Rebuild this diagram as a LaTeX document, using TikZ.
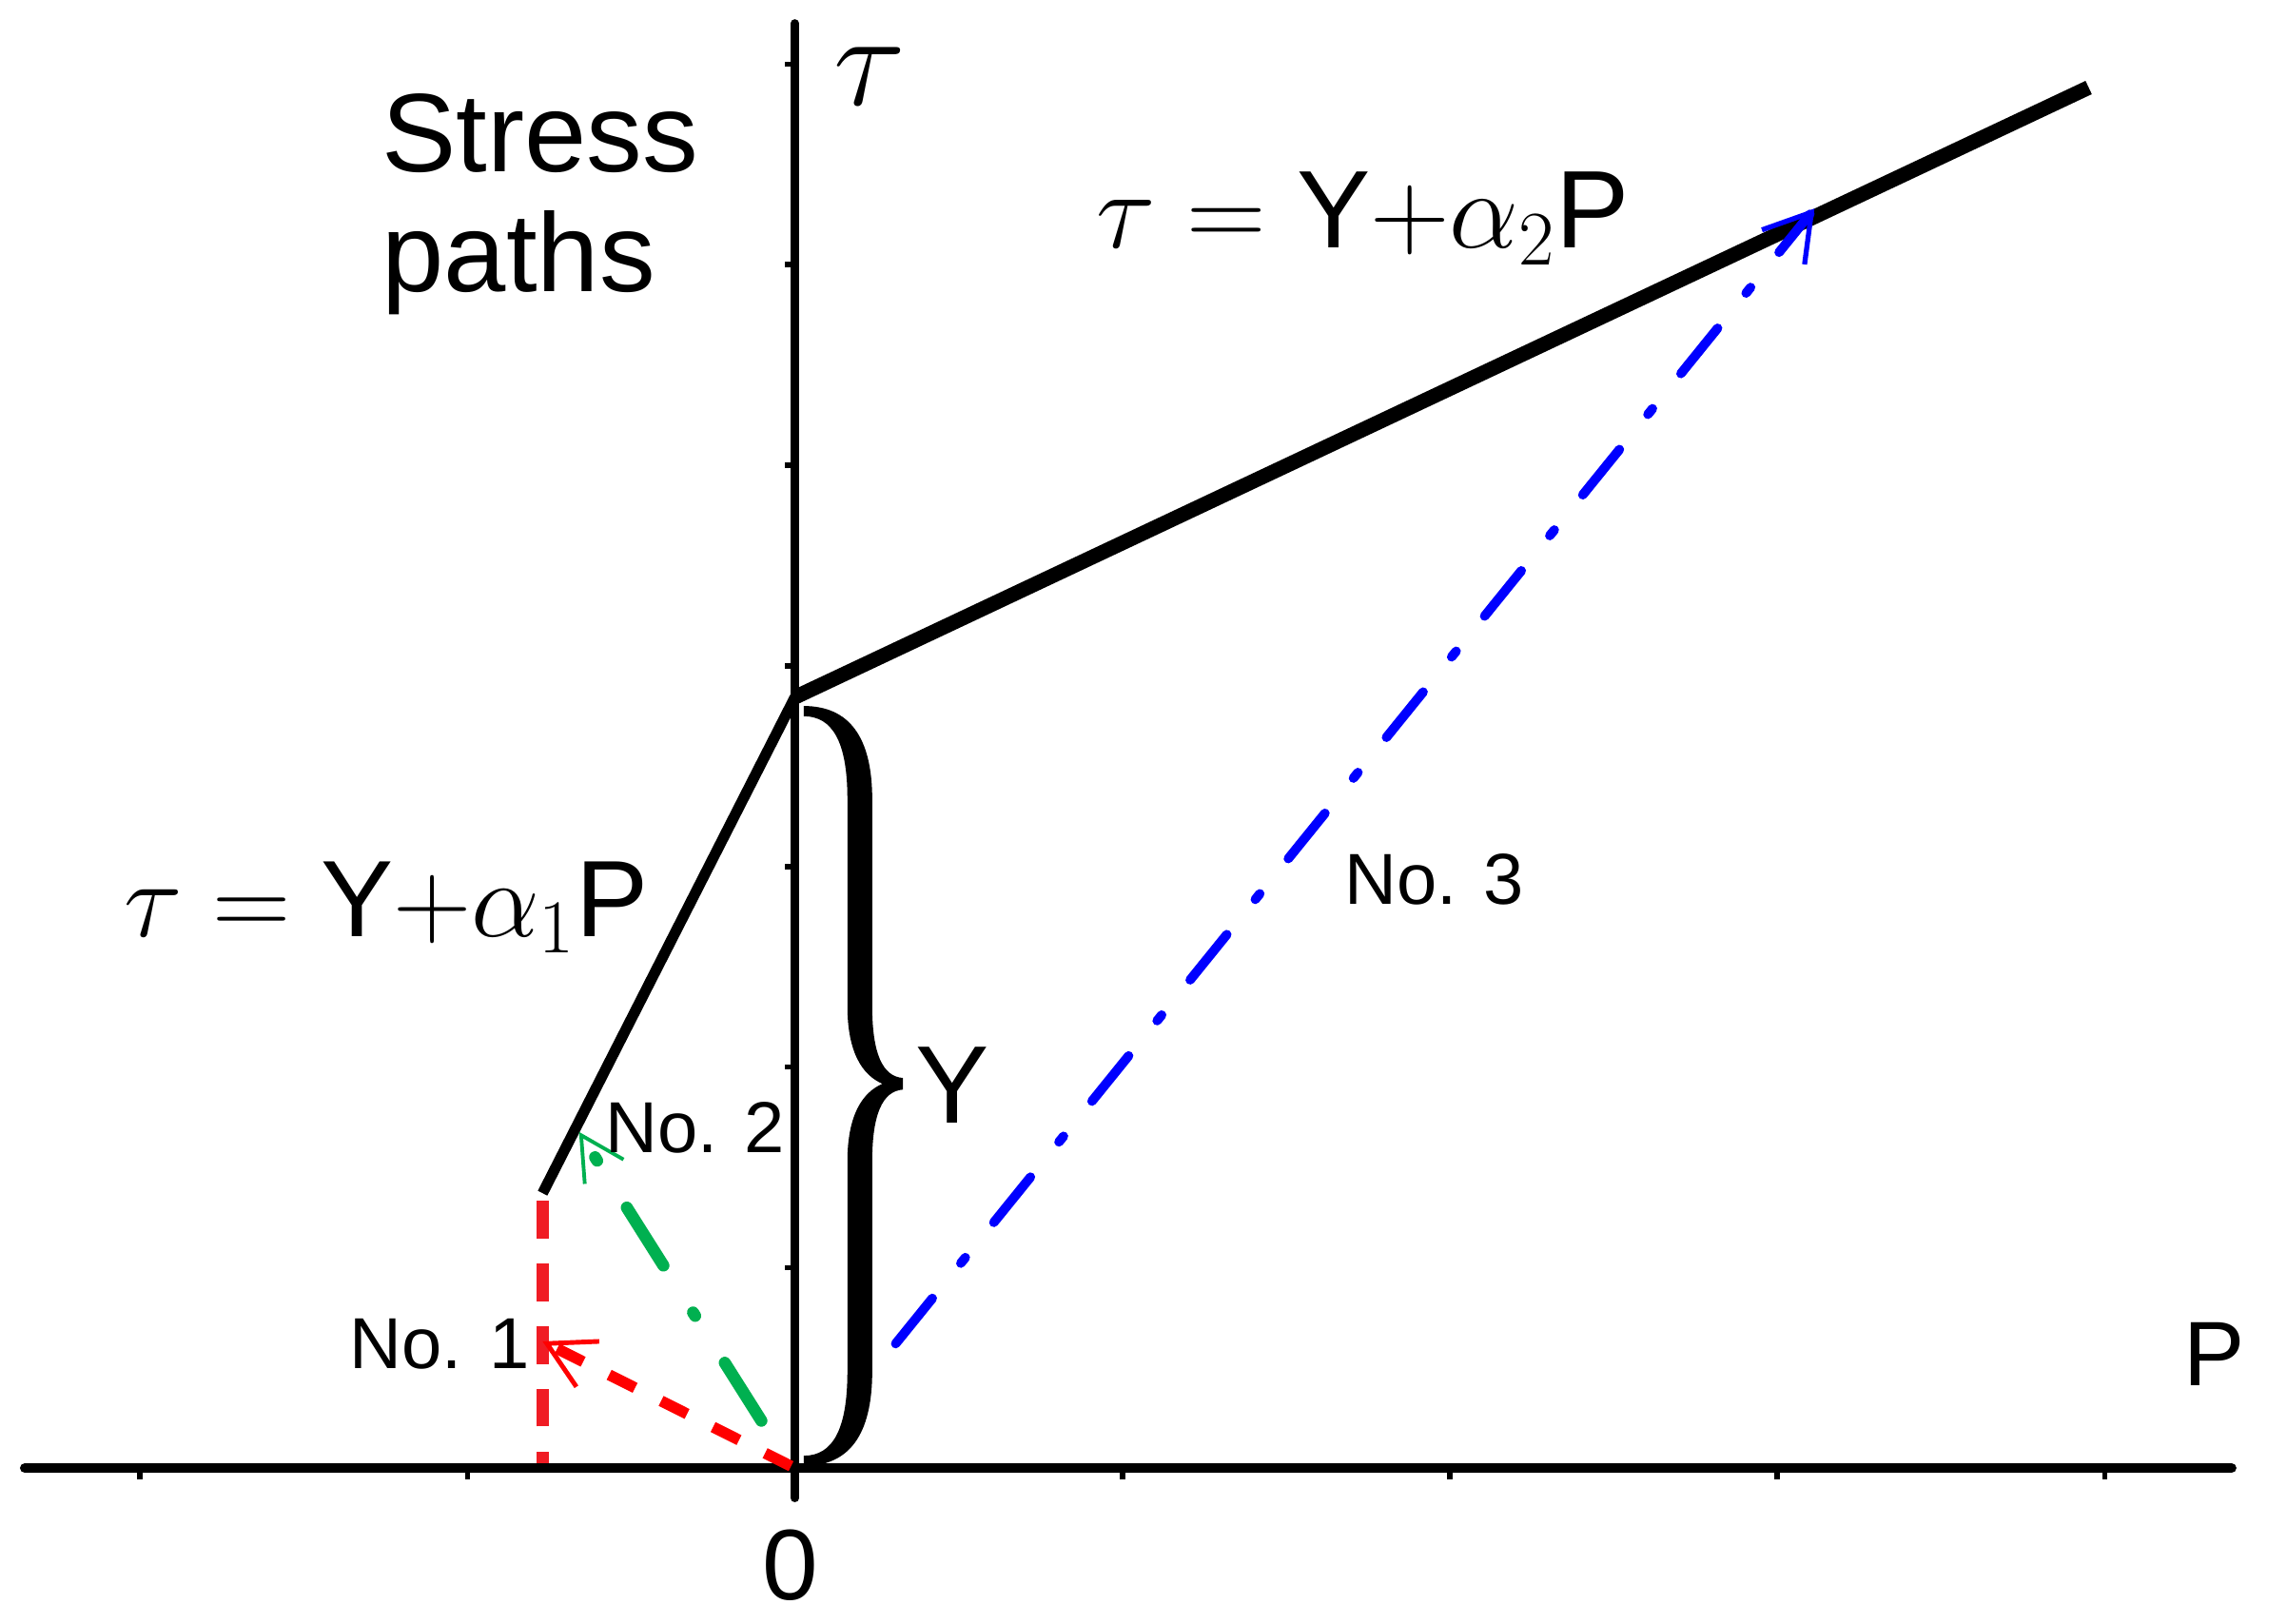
\RequirePackage{fix-cm}
\documentclass[tikz,border=0pt]{standalone}
\usepackage[no-math]{fontspec}
\setmainfont{Liberation Sans}
\usetikzlibrary{arrows.meta,calc}
\newcommand{\fsz}[1]{\fontsize{#1}{#1}\selectfont}
\definecolor{redA}{RGB}{240,28,36}
\definecolor{redB}{RGB}{255,0,0}
\definecolor{grn}{RGB}{0,176,80}
\definecolor{blu}{RGB}{0,0,255}
\begin{document}
\begin{tikzpicture}[x=0.015332cm,y=-0.015332cm,
  lbl/.style={inner sep=0pt, outer sep=0pt, anchor=base west},
  axisline/.style={line width=2.6pt, line cap=round},
  tickmark/.style={line width=1.6pt},
  pathred/.style={color=redB, line width=3.3pt},
  pathgreen/.style={color=grn, line width=3.6pt, line cap=round},
  pathblue/.style={color=blu, line width=2.8pt, line cap=round}]
\fill[white] (0,0) rectangle (1568,1113);
\useasboundingbox (0,0) rectangle (1568,1113);

% coordinates
\coordinate (O) at (545,1006.5);
\coordinate (xl) at (17,1006.5);
\coordinate (xr) at (1530,1006.5);
\coordinate (yt) at (545,16);
\coordinate (yb) at (545,1027);
\coordinate (A) at (372,818);
\coordinate (K) at (545,478);
\coordinate (C) at (1432,60);
\coordinate (R0) at (372,1003);
\coordinate (R1) at (372,919.6);
\coordinate (G0) at (522,974);
\coordinate (G1) at (397,776);
\coordinate (T3) at (1244,143);
\coordinate (B0) at ($(O)!0.0988!(T3)$);

% axes
\draw[axisline, line width=2.9pt] (xl) -- (xr);
\draw[axisline, line width=2.5pt] (yt) -- (yb);
\foreach \x in {96,320.5,769.5,994,1218.5,1443}
  \draw[tickmark] (\x,1006.5) -- (\x,1014);
\foreach \y in {44,181.5,319,456.5,594,731.5,869}
  \draw[tickmark] (545,\y) -- (538,\y);

% yield lines
\draw[line width=3.2pt] (A) -- (K);
\draw[line width=4.4pt] (K) -- (C);

% brace
\fill (551,484) .. controls (582,484) and (598,505) .. (598,548) -- (598,690)
  .. controls (598,722) and (605,738) .. (619,739) -- (619,747)
  .. controls (605,748) and (598,764) .. (598,796) -- (598,940)
  .. controls (598,984) and (582,1005) .. (551,1005) -- (551,998)
  .. controls (571,998) and (581,980) .. (581,940) -- (581,796)
  .. controls (581,765) and (591,749) .. (605,743)
  .. controls (591,737) and (581,721) .. (581,690) -- (581,548)
  .. controls (581,509) and (571,491) .. (551,491) -- cycle;

% stress paths
\draw[color=redA, line width=3.8pt, dash pattern=on 11.34pt off 7.42pt, dash phase=7.85pt] (R0) -- (A);
\draw[pathred, dash pattern=on 8.7pt off 8.7pt, dash phase=16.1pt,
  -{Straight Barb[length=13.7pt, width=15.2pt, line width'=1.4pt]}] (O) -- (R1);
\draw[pathgreen, dash pattern=on 20.5pt off 16.6pt on 1.2pt off 16.6pt,
  -{Straight Barb[length=12.9pt, width=13.7pt, line width'=1.1pt]}] (G0) -- (G1);
\draw[pathblue, dash pattern=on 17.45pt off 13.52pt on 2.18pt off 13.52pt,
  -{Straight Barb[length=13.4pt, width=16.4pt, line width'=1.5pt]}] (B0) -- (T3);

% labels
\node[lbl, font=\fsz{33.4}] (stress) at (262,118) {Stress};
\node[lbl, font=\fsz{33.4}] (paths) at (262,200) {paths};
\node[lbl, font=\fsz{40}] (tau) at (572,72) {$\tau$};
\node[lbl, font=\fsz{33}] (eq2) at (752,170) {$\tau = \mbox{Y}{+}\alpha_2\mbox{P}$};
\node[lbl, font=\fsz{32.5}] (eq1) at (85,642) {$\tau = \mbox{Y}{+}\alpha_1\mbox{P}$};
\node[lbl, font=\fsz{21.6}] (n1) at (240,938) {No. 1};
\node[lbl, font=\fsz{21.6}] (n2) at (415,790) {No. 2};
\node[lbl, font=\fsz{21.6}] (n3) at (922,620) {No. 3};
\node[lbl, font=\fsz{33}] (ylab) at (628,770) {Y};
\node[lbl, font=\fsz{27.4}] (plab) at (1497,950) {P};
\node[inner sep=0pt, anchor=base, font=\fsz{30}] (zero) at (542,1097) {0};
\end{tikzpicture}
\end{document}
